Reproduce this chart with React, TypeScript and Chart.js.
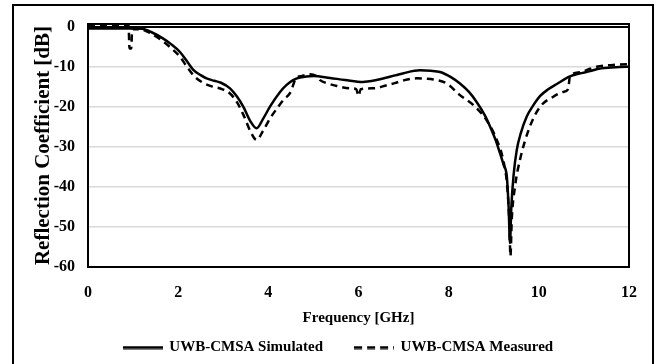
import React, { useEffect, useRef } from "react";
import { Chart, registerables } from "chart.js";

Chart.register(...registerables);

const simFreq = [0, 0.5, 1.0, 1.2, 1.4, 1.66, 1.85, 2.04, 2.2, 2.33, 2.5, 2.63, 2.8, 2.95, 3.15, 3.3, 3.45, 3.6, 3.74, 3.88, 4.04, 4.26, 4.4, 4.55, 4.7, 5.0, 5.37, 5.7, 6.1, 6.2, 6.4, 6.63, 7.0, 7.36, 7.6, 7.81, 8.05, 8.25, 8.45, 8.62, 8.8, 8.92, 9.05, 9.14, 9.22, 9.29, 9.33, 9.36, 9.39, 9.44, 9.51, 9.6, 9.73, 9.88, 10.03, 10.2, 10.4, 10.69, 10.9, 11.14, 11.28, 11.6, 11.95, 12];
const simDb = [-0.3, -0.3, -0.3, -0.4, -1.2, -2.8, -4.3, -6.2, -8.6, -10.6, -12.0, -12.8, -13.4, -13.9, -15.3, -17.3, -20.0, -23.5, -25.3, -23.0, -19.8, -16.2, -14.5, -13.25, -12.6, -12.2, -12.7, -13.2, -13.7, -13.6, -13.2, -12.6, -11.5, -10.8, -10.9, -11.2, -12.5, -14.1, -16.2, -18.7, -22.0, -24.9, -28.5, -31.6, -34.5, -37.4, -45, -54, -45, -37, -30.75, -26.5, -22.4, -19.5, -17.2, -15.6, -14.2, -12.3, -11.6, -11.0, -10.5, -10.1, -9.9, -9.9];

const measFreq = [0, 0.5, 0.9, 0.92, 0.96, 0.98, 1.2, 1.4, 1.66, 1.85, 2.04, 2.2, 2.37, 2.55, 2.77, 2.95, 3.15, 3.3, 3.45, 3.6, 3.74, 3.88, 4.04, 4.22, 4.35, 4.48, 4.55, 4.6, 4.75, 4.92, 5.1, 5.15, 5.3, 5.52, 5.81, 5.95, 6.0, 6.05, 6.33, 6.63, 6.8, 7.0, 7.29, 7.5, 7.66, 7.96, 8.25, 8.55, 8.84, 9.07, 9.21, 9.3, 9.35, 9.37, 9.4, 9.47, 9.58, 9.8, 10.03, 10.32, 10.54, 10.65, 10.69, 10.9, 11.14, 11.28, 11.6, 11.95, 12];
const measDb = [0.4, 0.4, 0.4, -5.3, -5.3, -0.5, -0.6, -1.6, -3.5, -5.3, -7.4, -10.0, -12.4, -13.9, -14.9, -15.4, -16.6, -18.7, -22.0, -26.0, -28.2, -26.0, -22.8, -19.9, -18.0, -16.5, -14.5, -13.0, -12.2, -11.8, -12.5, -13.25, -14.0, -14.7, -15.3, -15.5, -17.2, -15.5, -15.3, -14.5, -14.0, -13.3, -12.8, -12.9, -13.1, -14.1, -17.0, -19.5, -23.25, -28.25, -33.25, -40, -50, -57.3, -48, -40, -33.25, -24.9, -19.9, -17.4, -16.2, -15.5, -12.3, -11.3, -10.4, -9.9, -9.5, -9.3, -9.3];

const seriesNames = ["UWB-CMSA Simulated", "UWB-CMSA Measured"];
const xTickStep = 2;
const yTickValues = [-60, -50, -40, -30, -20, -10, 0];
const xTitle = "Frequency [GHz]";
const yTitle = "Reflection Coefficient [dB]";

const FONT = "'Liberation Serif', 'Times New Roman', serif";

function makeLegendLine(dash: number[]) {
  const c = document.createElement("canvas");
  c.width = 40;
  c.height = 4;
  const g = c.getContext("2d")!;
  g.strokeStyle = "#000";
  g.lineWidth = 3;
  g.setLineDash(dash);
  g.beginPath();
  g.moveTo(0, 2);
  g.lineTo(40, 2);
  g.stroke();
  return c;
}

export default function App() {
  const ref = useRef<HTMLCanvasElement | null>(null);

  useEffect(() => {
    document.body.style.margin = "0";
    const canvas = ref.current;
    if (!canvas) return;

    const frame = {
      id: "frame",
      beforeDatasetsDraw(chart: any) {
        const { ctx, chartArea } = chart;
        ctx.save();
        ctx.strokeStyle = "#000";
        ctx.lineWidth = 2;
        ctx.strokeRect(chartArea.left, chartArea.top, chartArea.right - chartArea.left, chartArea.bottom - chartArea.top);
        ctx.restore();
      },
      afterDraw(chart: any) {
        const { ctx } = chart;
        ctx.save();
        ctx.strokeStyle = "#000";
        ctx.lineWidth = 2;
        ctx.strokeRect(13, 5, 640, 400);
        ctx.restore();
      },
    };

    const chart = new Chart(canvas, {
      type: "line",
      data: {
        datasets: [
          {
            label: seriesNames[0],
            data: simFreq.map((x, i) => ({ x, y: simDb[i] })),
            borderColor: "#000",
            backgroundColor: "#000",
            borderWidth: 2.5,
            pointRadius: 0,
            pointStyle: makeLegendLine([]) as any,
            fill: false,
            cubicInterpolationMode: "monotone",
          },
          {
            label: seriesNames[1],
            data: measFreq.map((x, i) => ({ x, y: measDb[i] })),
            borderColor: "#000",
            backgroundColor: "#000",
            borderWidth: 2.5,
            borderDash: [7, 5],
            pointRadius: 0,
            pointStyle: makeLegendLine([8, 5]) as any,
            fill: false,
            cubicInterpolationMode: "monotone",
          },
        ],
      },
      options: {
        responsive: false,
        animation: false,
        devicePixelRatio: 1,
        layout: { padding: { left: 48, right: 30, top: 24, bottom: -1 } },
        plugins: {
          tooltip: { enabled: false },
          legend: {
            position: "bottom",
            labels: {
              color: "#000",
              font: { family: FONT, size: 15, weight: "bold" },
              usePointStyle: true,
              pointStyleWidth: 38,
              boxWidth: 38,
              padding: 32,
            },
          },
        },
        scales: {
          x: {
            type: "linear",
            min: 0,
            max: 12,
            afterFit(scale: any) {
              scale.height = 41;
            },
            ticks: {
              stepSize: xTickStep,
              color: "#000",
              padding: 16,
              font: { family: FONT, size: 16, weight: "bold" },
            },
            grid: { display: false, drawTicks: false },
            border: { display: false },
            title: {
              display: true,
              text: xTitle,
              color: "#000",
              font: { family: FONT, size: 15, weight: "bold" },
              padding: { top: 0, bottom: -19 },
            },
          },
          y: {
            min: -60,
            max: 0.8,
            afterBuildTicks(scale: any) {
              scale.ticks = yTickValues.map((v) => ({ value: v }));
            },
            afterFit(scale: any) {
              scale.width = 40;
            },
            ticks: {
              autoSkip: false,
              color: "#000",
              padding: 13,
              font: { family: FONT, size: 16, weight: "bold" },
              callback: (v: any) => String(v),
            },
            grid: {
              drawTicks: false,
              color: (c: any) => (c.tick && c.tick.value === 0 ? "#000" : "#d9d9d9"),
              lineWidth: (c: any) => (c.tick && c.tick.value === 0 ? 2 : 1.5),
            },
            border: { display: false },
            title: {
              display: true,
              text: yTitle,
              color: "#000",
              font: { family: FONT, size: 21, weight: "bold" },
              padding: { top: -16.6, bottom: 0 },
            },
          },
        },
      },
      plugins: [frame],
    });

    return () => chart.destroy();
  }, []);

  return (
    <div style={{ position: "absolute", left: 0, top: 0, width: 659, height: 364, background: "#fff" }}>
      <canvas ref={ref} width={659} height={364} style={{ display: "block" }} />
    </div>
  );
}
